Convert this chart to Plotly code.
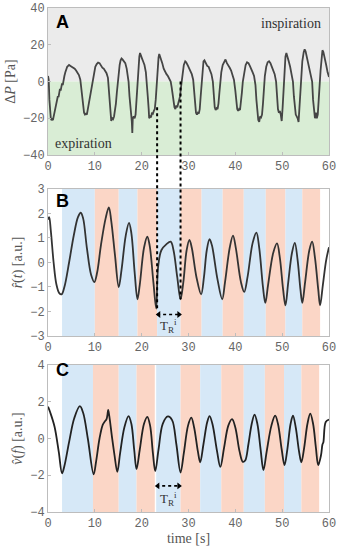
import plotly.graph_objects as go

# ---------------- data ----------------
t_dp = [0.0, 0.15, 0.3, 0.45, 0.6, 0.75, 0.9, 1.05, 1.2, 1.35, 1.5, 1.65, 1.8, 1.95, 2.1, 2.25, 2.4, 2.55, 2.7, 2.85, 3.0, 3.15, 3.3, 3.5, 3.7, 3.9, 4.1, 4.3, 4.5, 4.8, 5.1, 5.4, 5.7, 6.0, 6.3, 6.6, 6.9, 7.1, 7.3, 7.5, 7.7, 7.9, 8.1, 8.3, 8.5, 8.7, 8.9, 9.1, 9.3, 9.5, 9.7, 9.9, 10.1, 10.4, 10.7, 11.0, 11.3, 11.6, 11.9, 12.2, 12.5, 12.8, 13.0, 13.2, 13.35, 13.5, 13.7, 13.9, 14.1, 14.3, 14.5, 14.7, 14.9, 15.1, 15.3, 15.5, 15.7, 15.9, 16.2, 16.5, 16.8, 17.0, 17.2, 17.4, 17.6, 17.8, 17.9, 18.0, 18.1, 18.3, 18.5, 18.7, 18.9, 19.1, 19.3, 19.5, 19.65, 19.8, 20.0, 20.3, 20.6, 20.9, 21.1, 21.3, 21.5, 21.6, 21.8, 22.0, 22.2, 22.4, 22.6, 22.8, 23.0, 23.2, 23.4, 23.6, 23.75, 23.9, 24.1, 24.4, 24.7, 25.0, 25.3, 25.6, 25.9, 26.2, 26.4, 26.6, 26.8, 27.0, 27.2, 27.4, 27.6, 27.8, 28.0, 28.2, 28.4, 28.6, 28.8, 29.0, 29.3, 29.5, 29.8, 30.1, 30.4, 30.7, 31.0, 31.2, 31.4, 31.6, 31.8, 32.0, 32.2, 32.4, 32.6, 32.8, 33.0, 33.2, 33.4, 33.7, 34.0, 34.3, 34.6, 34.9, 35.2, 35.4, 35.6, 35.8, 36.0, 36.2, 36.4, 36.6, 36.8, 37.0, 37.3, 37.6, 37.9, 38.2, 38.5, 38.8, 39.1, 39.4, 39.7, 40.0, 40.2, 40.4, 40.6, 40.8, 41.0, 41.2, 41.4, 41.6, 41.9, 42.2, 42.5, 42.8, 43.1, 43.4, 43.7, 44.0, 44.3, 44.5, 44.7, 44.9, 45.1, 45.3, 45.5, 45.7, 45.9, 46.1, 46.3, 46.6, 46.9, 47.2, 47.5, 47.8, 48.1, 48.4, 48.7, 48.9, 49.1, 49.3, 49.5, 49.7, 49.9, 50.1, 50.3, 50.5, 50.7, 50.9, 51.1, 51.4, 51.7, 52.0, 52.3, 52.5, 52.7, 52.9, 53.1, 53.3, 53.5, 53.7, 53.9, 54.1, 54.3, 54.6, 54.8, 55.0, 55.3, 55.6, 55.9, 56.2, 56.4, 56.6, 56.8, 57.0, 57.2, 57.4, 57.6, 57.8, 58.0, 58.2, 58.4, 58.6, 58.8, 59.1, 59.4, 59.7, 60.0]
dp = [3, 1, -10, -18, -20, -21, -20.5, -21, -19, -17.5, -15, -14.5, -12, -10, -8, -8.5, -6, -4, -5, -3, -1, -2, 1, 3, 5, 7, 8, 8.5, 9, 8.5, 8, 7.5, 7, 6, 5, 3.5, 1, -3, -8, -14, -17, -18, -17.5, -18, -15, -13, -10, -7, -4, -2, 2, 5, 8, 9.5, 10.3, 10, 8.5, 7.5, 7, 6, 4.5, 2, -5, -15, -21, -21.5, -20, -20.5, -19, -16, -12, -6, 0, 5, 9, 11.5, 12.5, 12, 11, 10, 7, 4, 0, -8, -17, -19, -22, -28, -20, -19, -20, -18, -10, 0, 8, 13.5, 15.5, 14, 13, 11, 9, 5, 0, -8, -15, -20, -19, -19.5, -17, -17.5, -16, -15, -10, 0, 8, 13, 15, 14, 13, 10, 7, 5, 4, 3, 1.5, 0, -3, -8, -12, -14, -15, -13, -14, -12, -9, -8, -3, 2, 6, 9, 11, 10.5, 9, 7.5, 6, 4, 1, -6, -14, -17, -18, -17, -17.5, -15, -8, 0, 7, 11, 11.5, 10, 8.5, 8, 6, 4, 0, -8, -14, -15.5, -14.5, -15, -12, -6, 0, 5, 9, 11, 12, 10, 9, 7.5, 6, 4, 1, -5, -12, -15, -16, -15, -15.5, -12, -6, 0, 6, 9, 10.5, 10, 8.5, 7, 5, 3, -2, -10, -17, -21, -22, -19, -19.5, -18, -12, -4, 3, 8, 10.5, 11, 10, 8, 6, 4, 0, -8, -15, -17, -16, -18, -21.5, -14, -3, 8, 13.5, 15.5, 14, 11, 8, 4, 0, -8, -16, -18, -19, -20, -22, -14, -4, 5, 11, 16, 17.5, 16.5, 13, 10, 7, 4, 0, -10, -18, -20, -17, -20, -18, -12, -2, 6, 13, 17, 16, 13, 9, 5, 2.5]

t_r = [0, 0.25, 0.6, 1.2, 1.8, 2.4, 2.9, 3.5, 4.5, 5.5, 6.4, 7.0, 7.5, 8.3, 9.2, 9.9, 10.5, 11.3, 12.3, 13.0, 13.5, 14.3, 15.1, 15.7, 16.6, 17.3, 17.8, 18.5, 19.1, 19.6, 20.5, 21.2, 21.7, 22.5, 23.1, 23.5, 24.2, 25.3, 26.2, 26.8, 27.6, 28.3, 28.9, 29.6, 30.2, 30.7, 31.7, 32.7, 33.3, 33.9, 34.5, 35.0, 36.2, 37.2, 37.8, 38.8, 39.5, 40.1, 41.2, 41.9, 42.6, 43.7, 44.5, 45.1, 45.9, 46.4, 47.0, 48.1, 48.9, 49.5, 50.2, 50.7, 51.3, 52.1, 52.7, 53.3, 53.9, 54.3, 54.9, 55.8, 56.4, 57.0, 57.7, 58.1, 58.7, 59.4, 60.0]
r_hat = [1.75, 1.85, 1.3, 0.0, -0.9, -1.25, -1.3, -1.0, 0.0, 1.1, 1.85, 2.03, 1.8, 0.6, -0.5, -0.8, -0.4, 0.7, 1.8, 2.25, 1.7, 0.3, -1.0, -0.3, 1.1, 1.62, 1.2, -0.4, -1.5, -0.9, 0.6, 1.05, 0.7, -0.8, -1.88, -0.2, 0.5, 0.75, 0.85, 0.5, -0.6, -1.5, -0.8, 0.5, 0.92, 0.6, -0.6, -1.3, -0.6, 0.5, 0.95, 0.7, -0.7, -1.5, -0.8, 0.6, 1.1, 0.6, -0.8, -1.2, -0.6, 0.8, 1.22, 0.6, -1.0, -1.65, -0.9, 0.4, 0.78, 0.2, -1.1, -1.75, -0.8, 0.4, 0.8, 0.1, -1.1, -1.65, -0.8, 0.5, 0.85, 0.2, -1.1, -1.75, -0.9, 0.1, 0.62]

t_v = [0, 0.5, 1.4, 2.3, 3.0, 3.5, 4.5, 5.6, 6.8, 7.5, 8.5, 9.75, 10.3, 11.0, 11.7, 12.2, 12.5, 12.7, 12.85, 13.1, 13.7, 14.2, 14.8, 15.4, 16.3, 17.2, 17.8, 18.4, 18.9, 19.6, 20.5, 21.2, 21.8, 22.4, 22.9, 23.6, 24.5, 25.6, 26.5, 27.4, 28.3, 29.0, 29.9, 30.6, 31.2, 32.0, 32.5, 33.2, 34.0, 34.5, 35.1, 36.1, 36.8, 37.6, 38.5, 39.3, 40.0, 40.9, 41.6, 42.1, 42.8, 43.5, 44.1, 44.7, 45.4, 46.0, 46.7, 47.7, 48.5, 49.1, 49.9, 50.5, 51.1, 51.8, 52.3, 52.9, 53.6, 54.1, 54.7, 55.4, 56.0, 56.6, 57.2, 57.7, 58.3, 58.6, 58.8, 59.3, 60.0]
v_hat = [1.73, 1.4, 0.64, -0.73, -1.9, -1.5, -0.2, 1.1, 1.76, 1.4, 0.0, -1.95, -1.2, 0.0, 0.75, 0.95, 1.05, 1.3, 1.55, 1.2, 0.0, -0.9, -1.82, -0.8, 0.6, 1.22, 0.8, -0.6, -1.67, -0.6, 0.8, 1.18, 0.7, -0.8, -1.78, -0.6, 0.8, 1.2, 1.0, -0.3, -1.85, -0.8, 0.7, 1.13, 0.6, -0.7, -1.3, -0.3, 0.9, 1.22, 0.8, -0.7, -1.55, -0.5, 0.7, 1.05, 0.6, -0.7, -1.27, -1.2, -0.3, 0.8, 1.3, 0.8, -0.6, -1.72, -0.7, 0.7, 1.24, 0.8, -0.6, -1.45, -0.6, 0.8, 1.24, 0.6, -0.7, -1.3, -0.5, 0.8, 1.35, 0.8, -0.5, -1.45, -0.9, -0.33, -0.2, 0.9, 1.03]

# phase bands (start, end, kind)
bands_b = [(3.0, 10.0, "in"), (10.0, 15.1, "ex"), (15.1, 19.1, "in"), (19.1, 23.3, "ex"),
           (23.3, 28.3, "in"), (28.3, 32.8, "ex"), (32.8, 37.3, "in"), (37.3, 41.8, "ex"),
           (41.8, 46.5, "in"), (46.5, 50.7, "ex"), (50.7, 54.3, "in"), (54.3, 58.1, "ex")]
bands_c = [(3.0, 9.6, "in"), (9.6, 15.1, "ex"), (15.1, 18.9, "in"), (18.9, 22.8, "ex"),
           (23.1, 28.3, "in"), (28.3, 32.5, "ex"), (32.5, 37.0, "in"), (37.0, 41.8, "ex"),
           (41.8, 46.3, "in"), (46.3, 50.4, "ex"), (50.4, 54.1, "in"), (54.1, 57.9, "ex")]

# period markers
tr_b = (23.3, 28.3)
tr_c = (23.1, 28.3)
x_ticks = [0, 10, 20, 30, 40, 50, 60]

# ---------------- layout ----------------
W, H = 339, 550
M = dict(l=48, r=10, t=8, b=38)
dom_a = [0.7083, 1.0]
dom_b = [0.3492, 0.6409]
dom_c = [0.0, 0.2917]
rng_a = [-40, 40]
rng_b = [-3, 3]
rng_c = [-4, 4]

BLUE = "#d6e8f7"
ORANGE = "#fbd6c6"
GRAY = "#ebebeb"
GREEN = "#d9edd5"
FRAME = "#bdbdbd"
TICKF = dict(family="Liberation Mono, Courier New, monospace", size=12, color="#666")
TITLEF = dict(family="Liberation Serif, DejaVu Serif, serif", size=14, color="#555")


def to_paper(v, rng, dom):
    return dom[0] + (v - rng[0]) / (rng[1] - rng[0]) * (dom[1] - dom[0])


fig = go.Figure()
fig.add_trace(go.Scatter(x=t_dp, y=dp, mode="lines", line=dict(color="#454545", width=1.8),
                         xaxis="x", yaxis="y", showlegend=False, hoverinfo="skip"))
fig.add_trace(go.Scatter(x=t_r, y=r_hat, mode="lines", line=dict(color="#333", width=1.8, shape="spline", smoothing=1.0),
                         xaxis="x2", yaxis="y2", showlegend=False, hoverinfo="skip"))
fig.add_trace(go.Scatter(x=t_v, y=v_hat, mode="lines", line=dict(color="#222", width=1.8, shape="spline", smoothing=1.0),
                         xaxis="x3", yaxis="y3", showlegend=False, hoverinfo="skip"))

# double arrows
for (x0, x1), yv, xa, ya in [(tr_b, -2.12, "x2", "y2"), (tr_c, -2.58, "x3", "y3")]:
    fig.add_trace(go.Scatter(x=[x0, x1], y=[yv, yv], mode="lines", line=dict(color="black", width=1.6, dash="dot"),
                             xaxis=xa, yaxis=ya, showlegend=False, hoverinfo="skip"))
    fig.add_trace(go.Scatter(x=[x0 + 0.35, x1 - 0.35], y=[yv, yv], mode="markers",
                             marker=dict(symbol=["triangle-left", "triangle-right"], size=6, color="black"),
                             xaxis=xa, yaxis=ya, showlegend=False, hoverinfo="skip"))

shapes = []
shapes.append(dict(type="rect", xref="x", yref="y", x0=0, x1=60, y0=0, y1=40, fillcolor=GRAY, line_width=0, layer="below"))
shapes.append(dict(type="rect", xref="x", yref="y", x0=0, x1=60, y0=-40, y1=0, fillcolor=GREEN, line_width=0, layer="below"))
for bands, xr, yr in [(bands_b, "x2", "y2 domain"), (bands_c, "x3", "y3 domain")]:
    for s, e, k in bands:
        shapes.append(dict(type="rect", xref=xr, yref=yr, x0=s, x1=e, y0=0, y1=1,
                           fillcolor=BLUE if k == "in" else ORANGE, line_width=0, layer="below"))

# vertical dotted connectors from panel A to panel B
for xv, ya_v, yb_v in [(tr_b[0], -14, -1.88), (tr_b[1], 0, -1.5)]:
    shapes.append(dict(type="line", xref="x", yref="paper", x0=xv, x1=xv,
                       y0=to_paper(ya_v, rng_a, dom_a), y1=to_paper(yb_v, rng_b, dom_b),
                       line=dict(color="black", width=2, dash="dot"), layer="above"))

LETTERF = dict(family="Liberation Sans, Arial, sans-serif", size=18, color="black")
SERIF = "Liberation Serif, DejaVu Serif, serif"
annotations = [
    dict(text="<b>A</b>", xref="x", yref="y", x=3.0, y=32.5, showarrow=False, font=LETTERF),
    dict(text="<b>B</b>", xref="x2", yref="y2", x=3.0, y=2.5, showarrow=False, font=LETTERF),
    dict(text="<b>C</b>", xref="x3", yref="y3", x=3.0, y=3.7, showarrow=False, font=LETTERF),
    dict(text="inspiration", xref="x", yref="y", x=58.7, y=31.3, xanchor="right", showarrow=False,
         font=dict(family=SERIF, size=14, color="#333")),
    dict(text="expiration", xref="x", yref="y", x=1.0, y=-34, xanchor="left", showarrow=False,
         font=dict(family=SERIF, size=14, color="#333")),
    dict(text="T<sub>R</sub><sup>i</sup>", xref="x2", yref="y2", x=(tr_b[0] + tr_b[1]) / 2, y=-2.6, showarrow=False,
         font=dict(family=SERIF, size=13, color="#333")),
    dict(text="T<sub>R</sub><sup>i</sup>", xref="x3", yref="y3", x=(tr_c[0] + tr_c[1]) / 2, y=-3.3, showarrow=False,
         font=dict(family=SERIF, size=13, color="#333")),
]


def xax(dom_anchor, show_title=False):
    d = dict(range=[0, 60], tickvals=x_ticks, ticks="inside", ticklen=3, tickcolor=FRAME,
             showline=True, linecolor=FRAME, linewidth=1, mirror=True, showgrid=False, zeroline=False,
             tickfont=TICKF, anchor=dom_anchor, domain=[0, 1], automargin=False)
    if show_title:
        d["title"] = dict(text="time [s]", font=TITLEF, standoff=0)
    return d


def yax(rng, dom, tv, title, anchor):
    return dict(range=rng, domain=dom, tickvals=tv, ticks="inside", ticklen=3, tickcolor=FRAME,
                showline=True, linecolor=FRAME, linewidth=1, mirror=True, showgrid=False, zeroline=False,
                tickfont=TICKF, anchor=anchor, automargin=False,
                title=dict(text=title, font=TITLEF, standoff=4))


fig.update_layout(
    width=W, height=H, autosize=False, margin=M,
    paper_bgcolor="white", plot_bgcolor="white",
    shapes=shapes, annotations=annotations,
    xaxis=xax("y"), xaxis2=xax("y2"), xaxis3=xax("y3", True),
    yaxis=yax(rng_a, dom_a, [-40, -20, 0, 20, 40], "Δ<i>P</i> [Pa]", "x"),
    yaxis2=yax(rng_b, dom_b, [-3, -2, -1, 0, 1, 2, 3], "<i>r̂</i>(<i>t</i>) [a.u.]", "x2"),
    yaxis3=yax(rng_c, dom_c, [-4, -2, 0, 2, 4], "<i>v̂</i>(<i>f</i>) [a.u.]", "x3"),
)

fig.write_html("out.html", config={"displayModeBar": False},
               post_script="document.body.style.margin='0';document.body.style.overflow='hidden';")
